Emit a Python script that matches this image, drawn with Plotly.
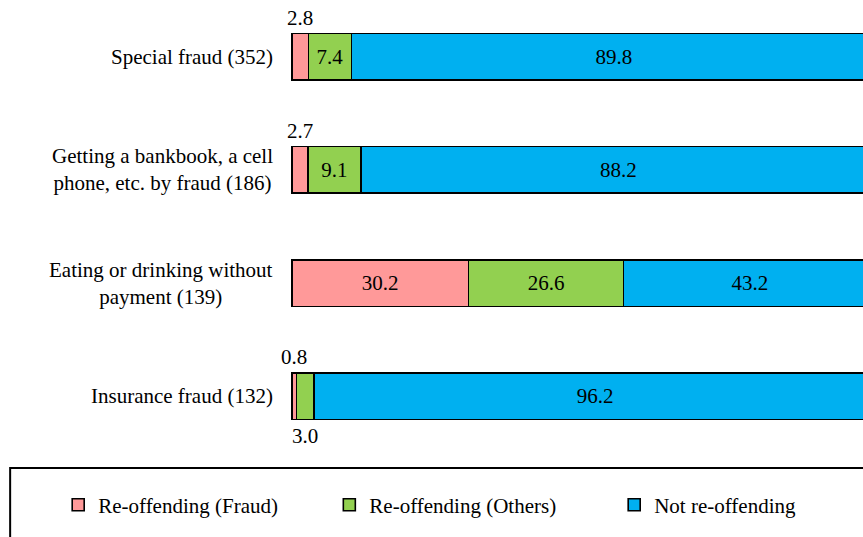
import plotly.graph_objects as go

categories = [
    "Special fraud (352)",
    "Getting a bankbook, a cell<br>phone, etc. by fraud (186)",
    "Eating or drinking without<br>payment (139)",
    "Insurance fraud (132)",
]
series_names = ["Re-offending (Fraud)", "Re-offending (Others)", "Not re-offending"]
fraud = [2.8, 2.7, 30.2, 0.8]
others = [7.4, 9.1, 26.6, 3.0]
not_reoff = [89.8, 88.2, 43.2, 96.2]
colors = ["#FF9999", "#92D050", "#00B0F0"]

FONT = "Liberation Serif"
small = 5  # segments narrower than this get their label outside the bar
legend_ids = ["legend", "legend2", "legend3"]
legend_x = [-0.407, 0.067, 0.565]

fig = go.Figure()
for name, vals, col, lg in zip(series_names, [fraud, others, not_reoff], colors, legend_ids):
    fig.add_trace(go.Bar(
        y=categories, x=vals, name=name, orientation="h", legend=lg,
        marker=dict(color=col, line=dict(color="black", width=1.6)),
        text=[f"{v:.1f}" if v >= small else "" for v in vals],
        textposition="inside", insidetextanchor="middle",
        constraintext="none", textangle=0,
        textfont=dict(family=FONT, size=21, color="black"),
    ))

# small values: fraud labels above the bar, others below
annotations = []
base = [0] * len(categories)
for k, vals in enumerate([fraud, others, not_reoff]):
    for i, v in enumerate(vals):
        if v < small:
            annotations.append(dict(
                x=base[i] + v / 2, y=categories[i], xref="x", yref="y",
                text=f"{v:.1f}", showarrow=False,
                yshift=39 if k == 0 else -40,
                font=dict(family=FONT, size=21, color="black"),
            ))
        base[i] += v

for c in categories:
    annotations.append(dict(
        x=0, y=c, xref="paper", yref="y", xanchor="right", xshift=-16,
        align="center", text=c, showarrow=False,
        font=dict(family=FONT, size=21, color="black"),
    ))

legends = {}
for lg, lx in zip(legend_ids, legend_x):
    legends[lg] = dict(orientation="h", x=lx, xanchor="left", y=-0.115, yanchor="middle",
                       font=dict(family=FONT, size=21, color="black"),
                       bgcolor="rgba(0,0,0,0)")

fig.update_layout(
    barmode="stack",
    bargap=0.59,
    width=863, height=537,
    margin=dict(l=291, r=0, t=0, b=84),
    paper_bgcolor="white", plot_bgcolor="white",
    font=dict(family=FONT, size=21, color="black"),
    xaxis=dict(range=[-0.17, 97.78], visible=False, fixedrange=True),
    yaxis=dict(autorange="reversed", showticklabels=False, showgrid=False,
               zeroline=False, showline=False),
    showlegend=True,
    annotations=annotations,
    shapes=[dict(type="rect", xref="paper", yref="paper",
                 x0=-0.491, x1=1.1, y0=-0.5, y1=-0.033,
                 line=dict(color="black", width=2))],
    **legends,
)

fig.write_html("out.html", config={"displayModeBar": False},
               post_script="document.body.style.margin='0';document.body.style.overflow='hidden';")
